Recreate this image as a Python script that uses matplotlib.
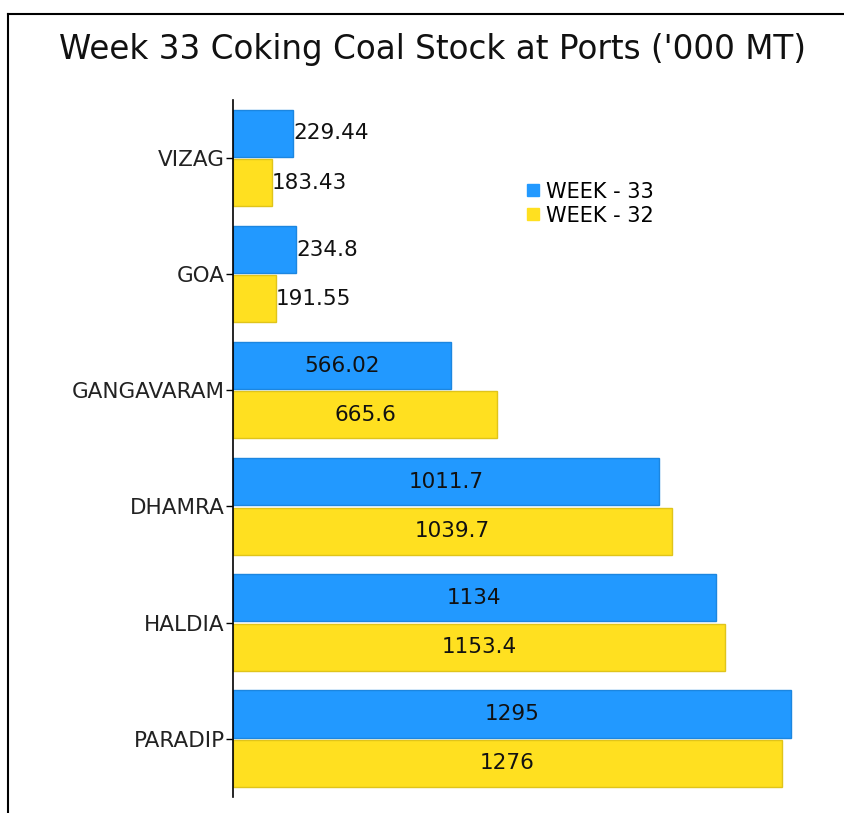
import matplotlib
matplotlib.use('Agg')
import matplotlib.pyplot as plt
from matplotlib.lines import Line2D
import numpy as np

ports = ["VIZAG", "GOA", "GANGAVARAM", "DHAMRA", "HALDIA", "PARADIP"]
week33 = [229.44, 234.8, 566.02, 1011.7, 1134, 1295]
week32 = [183.43, 191.55, 665.6, 1039.7, 1153.4, 1276]
labels33 = ["229.44", "234.8", "566.02", "1011.7", "1134", "1295"]
labels32 = ["183.43", "191.55", "665.6", "1039.7", "1153.4", "1276"]

blue = "#2299ff"
yellow = "#ffe020"
x_min, x_max = 100, 1300

fig = plt.figure(figsize=(8.44, 8.13), dpi=100)
ax = fig.add_axes([0.276, 0.020, 0.664, 0.857])

y = np.arange(len(ports))
h = 0.405
ax.barh(y - h / 2 - 0.01, np.array(week33) - x_min, left=x_min, height=h,
        color=blue, edgecolor="#1c86e0", linewidth=1)
ax.barh(y + h / 2 + 0.01, np.array(week32) - x_min, left=x_min, height=h,
        color=yellow, edgecolor="#e0c41a", linewidth=1)

# value labels: centred inside wide bars, right of the short ones
for vals, labs, off in [(week33, labels33, -h / 2 - 0.01), (week32, labels32, h / 2 + 0.01)]:
    for i, (v, s) in enumerate(zip(vals, labs)):
        if v > 400:
            ax.text((x_min + v) / 2, i + off, s, ha="center", va="center",
                    fontsize=15.5, color="#111111")
        else:
            ax.text(v, i + off, s, ha="left", va="center",
                    fontsize=15.5, color="#111111")

ax.set_xlim(x_min, x_max)
ax.set_ylim(len(ports) - 0.5, -0.5)
ax.set_yticks(y)
ax.set_yticklabels(ports, fontsize=15.5, color="#222222")
ax.tick_params(axis="y", length=5, width=1, pad=1)
ax.set_xticks([])
for side in ["top", "right", "bottom"]:
    ax.spines[side].set_visible(False)
ax.spines["left"].set_linewidth(1.2)

handles = [Line2D([], [], marker="s", linestyle="none", color=blue, markersize=8),
           Line2D([], [], marker="s", linestyle="none", color=yellow, markersize=8)]
fig.legend(handles, ["WEEK - 33", "WEEK - 32"], loc="upper left",
           bbox_to_anchor=(0.607, 0.787), frameon=False, fontsize=15,
           handletextpad=0.0, labelspacing=0.2, handlelength=1.2,
           borderaxespad=0)

fig.suptitle("Week 33 Coking Coal Stock at Ports ('000 MT)", x=0.512, y=0.96,
             fontsize=23.5, color="#111111")

# frame lines on left and top of the figure
fig.add_artist(Line2D([8 / 844, 1], [1 - 14 / 813, 1 - 14 / 813], color="black", linewidth=1.5))
fig.add_artist(Line2D([8 / 844, 8 / 844], [0, 1 - 14 / 813], color="black", linewidth=1.5))

fig.savefig("out.png", dpi=100)
